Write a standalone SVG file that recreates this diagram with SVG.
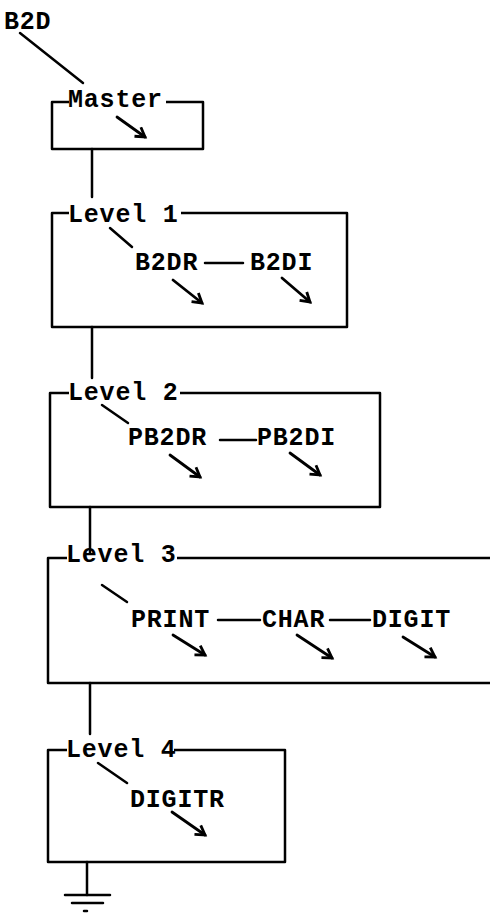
<svg xmlns="http://www.w3.org/2000/svg" width="490" height="913" viewBox="0 0 490 913">
<style>
.t{font-family:"Liberation Mono","DejaVu Sans Mono",monospace;font-weight:bold;font-size:25px;letter-spacing:0.8px;fill:#000}
.b{fill:none;stroke:#000;stroke-width:2.5;stroke-linejoin:round}
.c{fill:none;stroke:#000;stroke-width:2.5;stroke-linecap:round}
.a{fill:none;stroke:#000;stroke-width:2.8;stroke-linecap:round;marker-end:url(#ah)}
</style>
<defs>
<marker id="ah" markerUnits="userSpaceOnUse" markerWidth="14" markerHeight="14" refX="11" refY="6" orient="auto" viewBox="0 0 14 12">
<path d="M2,0.5 L11,6 L2,11.5" fill="none" stroke="#000" stroke-width="2.8" stroke-linejoin="miter"/>
</marker>
</defs>
<rect width="490" height="913" fill="#fff"/>
<g id="connectors">
<line class="c" x1="20" y1="33" x2="83" y2="83"/>
<line class="c" x1="92" y1="149" x2="92" y2="197"/>
<line class="c" x1="92" y1="327" x2="92" y2="378"/>
<line class="c" x1="90" y1="507" x2="90" y2="553"/>
<line class="c" x1="90" y1="683" x2="90" y2="734"/>
<line class="c" x1="87" y1="862" x2="87" y2="895"/>
</g>
<g id="b2d"><text class="t" x="4" y="29">B2D</text></g>
<g id="master">
<path class="b" d="M69,102 H52 V149 H203 V102 H166"/>
<text class="t" x="68" y="107">Master</text>
<line class="a" x1="117" y1="117" x2="145" y2="137"/>
</g>
<g id="level1">
<path class="b" d="M69,213 H52 V327 H347 V213 H181"/>
<text class="t" x="68" y="222">Level 1</text>
<line class="c" x1="110" y1="228" x2="132" y2="247"/>
<text class="t" x="135" y="270">B2DR</text>
<line class="c" x1="205" y1="263" x2="243" y2="263"/>
<text class="t" x="250" y="270">B2DI</text>
<line class="a" x1="173" y1="280" x2="202" y2="303"/>
<line class="a" x1="282" y1="278" x2="310" y2="302"/>
</g>
<g id="level2">
<path class="b" d="M69,393 H50 V507 H380 V393 H180"/>
<text class="t" x="68" y="400">Level 2</text>
<line class="c" x1="102" y1="405" x2="128" y2="423"/>
<text class="t" x="128" y="445">PB2DR</text>
<line class="c" x1="220" y1="440" x2="256" y2="440"/>
<text class="t" x="257" y="445">PB2DI</text>
<line class="a" x1="170" y1="455" x2="200" y2="477"/>
<line class="a" x1="290" y1="453" x2="320" y2="475"/>
</g>
<g id="level3">
<path class="b" d="M67,558 H48 V683 H492 M492,558 H177"/>
<text class="t" x="66" y="562">Level 3</text>
<line class="c" x1="102" y1="585" x2="127" y2="602"/>
<text class="t" x="131" y="627">PRINT</text>
<line class="c" x1="218" y1="620" x2="260" y2="620"/>
<text class="t" x="262" y="627">CHAR</text>
<line class="c" x1="330" y1="620" x2="370" y2="620"/>
<text class="t" x="372" y="627">DIGIT</text>
<line class="a" x1="173" y1="635" x2="205" y2="655"/>
<line class="a" x1="297" y1="635" x2="332" y2="658"/>
<line class="a" x1="403" y1="637" x2="435" y2="657"/>
</g>
<g id="level4">
<path class="b" d="M67,750 H48 V862 H285 V750 H174"/>
<text class="t" x="66" y="757">Level 4</text>
<line class="c" x1="98" y1="763" x2="127" y2="783"/>
<text class="t" x="130" y="807">DIGITR</text>
<line class="a" x1="172" y1="812" x2="205" y2="835"/>
</g>
<g id="ground">
<line class="c" x1="65" y1="895" x2="110" y2="895"/>
<line class="c" x1="72" y1="903" x2="103" y2="903"/>
<line class="c" x1="84" y1="911" x2="87" y2="911"/>
</g>
</svg>
